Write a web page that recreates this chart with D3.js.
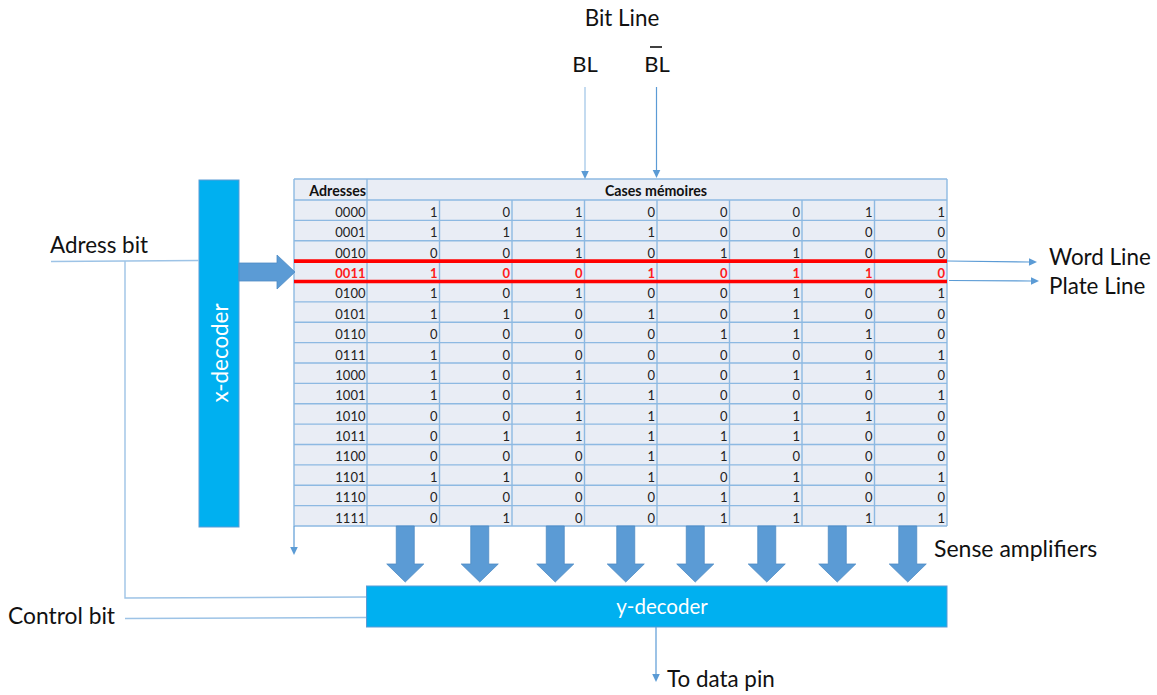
<!DOCTYPE html>
<html>
<head>
<meta charset="utf-8">
<script src="https://cdn.jsdelivr.net/npm/d3@7"></script>
<style>
  html, body { margin: 0; padding: 0; background: #fff; }
  text { font-family: Lato, "Open Sans", sans-serif; fill: #111; }
</style>
</head>
<body>
<svg id="chart" width="1157" height="695"></svg>
<script>
// table content
const addresses = ["0000", "0001", "0010", "0011", "0100", "0101", "0110", "0111",
    "1000", "1001", "1010", "1011", "1100", "1101", "1110", "1111"]
const bits = [
    [1, 0, 1, 0, 0, 0, 1, 1],
    [1, 1, 1, 1, 0, 0, 0, 0],
    [0, 0, 1, 0, 1, 1, 0, 0],
    [1, 0, 0, 1, 0, 1, 1, 0],
    [1, 0, 1, 0, 0, 1, 0, 1],
    [1, 1, 0, 1, 0, 1, 0, 0],
    [0, 0, 0, 0, 1, 1, 1, 0],
    [1, 0, 0, 0, 0, 0, 0, 1],
    [1, 0, 1, 0, 0, 1, 1, 0],
    [1, 0, 1, 1, 0, 0, 0, 1],
    [0, 0, 1, 1, 0, 1, 1, 0],
    [0, 1, 1, 1, 1, 1, 0, 0],
    [0, 0, 0, 1, 1, 0, 0, 0],
    [1, 1, 0, 1, 0, 1, 0, 1],
    [0, 0, 0, 0, 1, 1, 0, 0],
    [0, 1, 0, 0, 1, 1, 1, 1]
]
const selectedAddress = "0011"
const addressHeader = "Adresses"
const bitsHeader = "Cases mémoires"
const bitColumns = d3.range(8)

const blue = "#5b9bd5"
const lightBlue = "#9dc3e6"
const decoderBlue = "#00b0f0"
const cellFill = "#e9edf5"

const svg = d3.select("#chart")

const x = d3.scaleBand().domain(bitColumns).range([367, 947])
const y = d3.scaleBand().domain(addresses).range([200, 526])
const tableLeft = 294
const tableTop = 179
const tableRight = x.range()[1]
const tableBottom = y.range()[1]
const colLeft = x.range()[0]

// table background
svg.append("rect")
    .attr("x", tableLeft).attr("y", tableTop)
    .attr("width", tableRight - tableLeft).attr("height", tableBottom - tableTop)
    .attr("fill", cellFill)

// grid
let grid = svg.append("g").attr("fill", "none").attr("stroke", "#8db9e2").attr("stroke-width", 1.4)
grid.selectAll(".h")
    .data([tableTop].concat(addresses.map(function (a) { return y(a) }), [tableBottom]))
    .enter().append("line")
    .attr("x1", tableLeft).attr("x2", tableRight)
    .attr("y1", function (d) { return d }).attr("y2", function (d) { return d })
grid.selectAll(".v")
    .data(bitColumns.slice(1))
    .enter().append("line")
    .attr("x1", function (d) { return x(d) }).attr("x2", function (d) { return x(d) })
    .attr("y1", y.range()[0]).attr("y2", tableBottom)
grid.selectAll(".edge")
    .data([tableLeft, colLeft, tableRight])
    .enter().append("line")
    .attr("x1", function (d) { return d }).attr("x2", function (d) { return d })
    .attr("y1", tableTop).attr("y2", tableBottom)

// headers
svg.append("text").attr("x", colLeft - 1).attr("y", tableTop + 16.5)
    .attr("text-anchor", "end").attr("font-size", 14.2).attr("font-weight", 700)
    .text(addressHeader)
svg.append("text").attr("x", (colLeft + tableRight) / 2 - 1).attr("y", tableTop + 16.5)
    .attr("text-anchor", "middle").attr("font-size", 14.2).attr("font-weight", 700)
    .text(bitsHeader)

// rows
let rows = svg.selectAll(".row")
    .data(addresses)
    .enter().append("g")
    .attr("class", "row")
    .attr("transform", function (d) { return "translate(0," + (y(d) + y.bandwidth() - 3.5) + ")" })
    .style("--c", function (d) { return d == selectedAddress ? "#ff1a1a" : "#222" })
    .attr("font-weight", function (d) { return d == selectedAddress ? 700 : 400 })

rows.append("text")
    .attr("x", colLeft - 1.5)
    .attr("text-anchor", "end")
    .attr("font-size", 13)
    .style("fill", "var(--c)")
    .text(function (d) { return d })

rows.selectAll(".bit")
    .data(function (d, i) { return bits[i] })
    .enter().append("text")
    .attr("class", "bit")
    .attr("x", function (d, i) { return x(i) + x.bandwidth() - 2 })
    .attr("text-anchor", "end")
    .attr("font-size", 13)
    .style("fill", "var(--c)")
    .text(function (d) { return d })

// selected word: red word line / plate line
let selTop = y(selectedAddress)
let selBottom = selTop + y.bandwidth()
svg.selectAll(".sel")
    .data([selTop, selBottom])
    .enter().append("line")
    .attr("x1", tableLeft).attr("x2", tableRight)
    .attr("y1", function (d) { return d }).attr("y2", function (d) { return d })
    .attr("stroke", "#ff0000").attr("stroke-width", 3.6)

// decoders
function decoder(x0, y0, w, h) {
    svg.append("rect").attr("x", x0).attr("y", y0).attr("width", w).attr("height", h)
        .attr("fill", decoderBlue).attr("stroke", "#5b9bd5").attr("stroke-width", 1)
}
decoder(199, 180, 40, 347)
decoder(366.5, 586, 580.5, 41)
svg.append("text").attr("transform", "translate(228,353) rotate(-90)")
    .attr("text-anchor", "middle").attr("font-size", 22.4).style("fill", "#fff").text("x-decoder")
svg.append("text").attr("x", 662).attr("y", 614)
    .attr("text-anchor", "middle").attr("font-size", 20.5).style("fill", "#fff").text("y-decoder")

// block arrows
function blockArrow(x0, y0, x1, y1, shaft, head, headLen) {
    let len = Math.hypot(x1 - x0, y1 - y0)
    let ux = (x1 - x0) / len, uy = (y1 - y0) / len
    let nx = -uy, ny = ux
    let bx = x1 - ux * headLen, by = y1 - uy * headLen
    let p = d3.path()
    p.moveTo(x0 + nx * shaft / 2, y0 + ny * shaft / 2)
    p.lineTo(bx + nx * shaft / 2, by + ny * shaft / 2)
    p.lineTo(bx + nx * head / 2, by + ny * head / 2)
    p.lineTo(x1, y1)
    p.lineTo(bx - nx * head / 2, by - ny * head / 2)
    p.lineTo(bx - nx * shaft / 2, by - ny * shaft / 2)
    p.lineTo(x0 - nx * shaft / 2, y0 - ny * shaft / 2)
    p.closePath()
    svg.append("path").attr("d", p.toString())
        .attr("fill", blue).attr("stroke", "#4f8cc4").attr("stroke-width", 0.8)
}
blockArrow(239, 272, 295, 272, 18, 34, 18)

// sense amplifier arrows sit a little off the columns in the drawing
const senseOffsets = [2, 4, 7, 5, 2, 1, -1, -3]
bitColumns.forEach(function (c) {
    let cx = x(c) + x.bandwidth() / 2 + senseOffsets[c]
    blockArrow(cx, tableBottom, cx, 582, 18, 37, 18)
})

// thin connectors
function wire(points, color, width) {
    svg.append("path").attr("d", d3.line()(points))
        .attr("fill", "none").attr("stroke", color || lightBlue).attr("stroke-width", width || 1.4)
}
function wireArrow(x0, y0, x1, y1, color) {
    wire([[x0, y0], [x1, y1]], color, 1.2)
    let a = Math.atan2(y1 - y0, x1 - x0)
    let s = 8, w = 3.8
    let pts = [
        [x1 + Math.cos(a) * s, y1 + Math.sin(a) * s],
        [x1 - Math.sin(a) * w, y1 + Math.cos(a) * w],
        [x1 + Math.sin(a) * w, y1 - Math.cos(a) * w]
    ]
    svg.append("polygon").attr("points", pts.join(" ")).attr("fill", blue)
}
wire([[51, 261.5], [199, 260.5]])
wire([[125, 261], [125, 598], [366, 597]])
wire([[125, 618.5], [366, 617.5]])
wireArrow(585, 87, 585, 171, lightBlue)
wireArrow(656.5, 87, 656.5, 170, blue)
wireArrow(tableRight, 261, 1029, 262, blue)
wireArrow(949, 280.5, 1031, 281, blue)
wireArrow(tableLeft, tableBottom, tableLeft, 547, blue)
wireArrow(656, 627, 656, 674, blue)

// labels
const labels = [
    { t: "Bit Line", x: 622, y: 26, a: "middle", s: 22.4 },
    { t: "BL", x: 585, y: 72, a: "middle", s: 22 },
    { t: "BL", x: 657, y: 72, a: "middle", s: 22 },
    { t: "Adress bit", x: 50, y: 253, a: "start", s: 22.4 },
    { t: "Word Line", x: 1049, y: 265, a: "start", s: 22.4 },
    { t: "Plate Line", x: 1049, y: 294, a: "start", s: 22.4 },
    { t: "Sense amplifiers", x: 934, y: 557, a: "start", s: 23 },
    { t: "Control bit", x: 8, y: 624, a: "start", s: 22.8 },
    { t: "To data pin", x: 667, y: 687, a: "start", s: 22.4 }
]
svg.selectAll(".label")
    .data(labels)
    .enter().append("text")
    .attr("class", "label")
    .attr("x", function (d) { return d.x })
    .attr("y", function (d) { return d.y })
    .attr("text-anchor", function (d) { return d.a })
    .attr("font-size", function (d) { return d.s })
    .text(function (d) { return d.t })

// bar over the second BL
svg.append("line").attr("x1", 650).attr("x2", 662).attr("y1", 47).attr("y2", 47)
    .attr("stroke", "#000").attr("stroke-width", 1.5)
</script>
</body>
</html>
